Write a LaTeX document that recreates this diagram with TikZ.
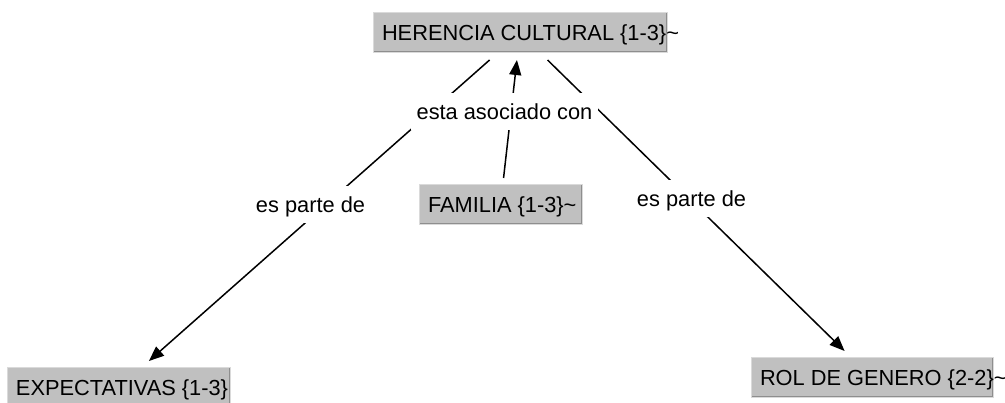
\documentclass[tikz,border=0pt]{standalone}
\usepackage{fontspec}
\setmainfont{Liberation Sans}
\usetikzlibrary{arrows.meta}
\definecolor{cgray}{HTML}{C0C0C0}
\definecolor{clight}{HTML}{DADADA}
\definecolor{cdark}{HTML}{8E8E8E}
\begin{document}
\begin{tikzpicture}[x=1pt,y=-1pt,
  font=\fontsize{21.8}{26}\selectfont,
  concept/.style={fill=cgray, draw=clight, line width=1pt,
    inner xsep=9pt, inner ysep=0pt, minimum height=40pt,
    text height=15.6pt, text depth=0pt, outer sep=7pt,
    path picture={\draw[cdark,line width=3pt]
      (path picture bounding box.south west) --
      (path picture bounding box.south east) --
      (path picture bounding box.north east);}},
  linklabel/.style={fill=white, inner xsep=6pt, inner ysep=0pt,
    minimum height=37pt, text height=15.6pt, text depth=0pt},
  conn/.style={line width=1.5pt, -{Triangle[length=15pt,width=12pt]}}]
\useasboundingbox (0,0) rectangle (1005,403);
\clip (0,0) rectangle (1005,403);
\node[concept] (her) at (520,33) {\makebox[276pt][l]{HERENCIA CULTURAL \{1-3\}\textasciitilde}};
\node[concept] (fam) at (500.5,205) {\makebox[145pt][l]{FAMILIA \{1-3\}\textasciitilde}};
\node[concept] (exp) at (118.5,388) {\makebox[205pt][l]{EXPECTATIVAS \{1-3\}}};
\node[concept] (rol) at (872,378) {\makebox[224pt][l]{ROL DE GENERO \{2-2\}\textasciitilde}};
\draw[conn] (her) -- (exp);
\draw[conn] (her) -- (rol);
\draw[conn] (fam) -- (her);
\node[linklabel] (l1) at (504.5,112) {esta asociado con};
\node[linklabel] (l2) at (310.5,204.5) {es parte de};
\node[linklabel] (l3) at (691.5,198.5) {es parte de};
\end{tikzpicture}
\end{document}
